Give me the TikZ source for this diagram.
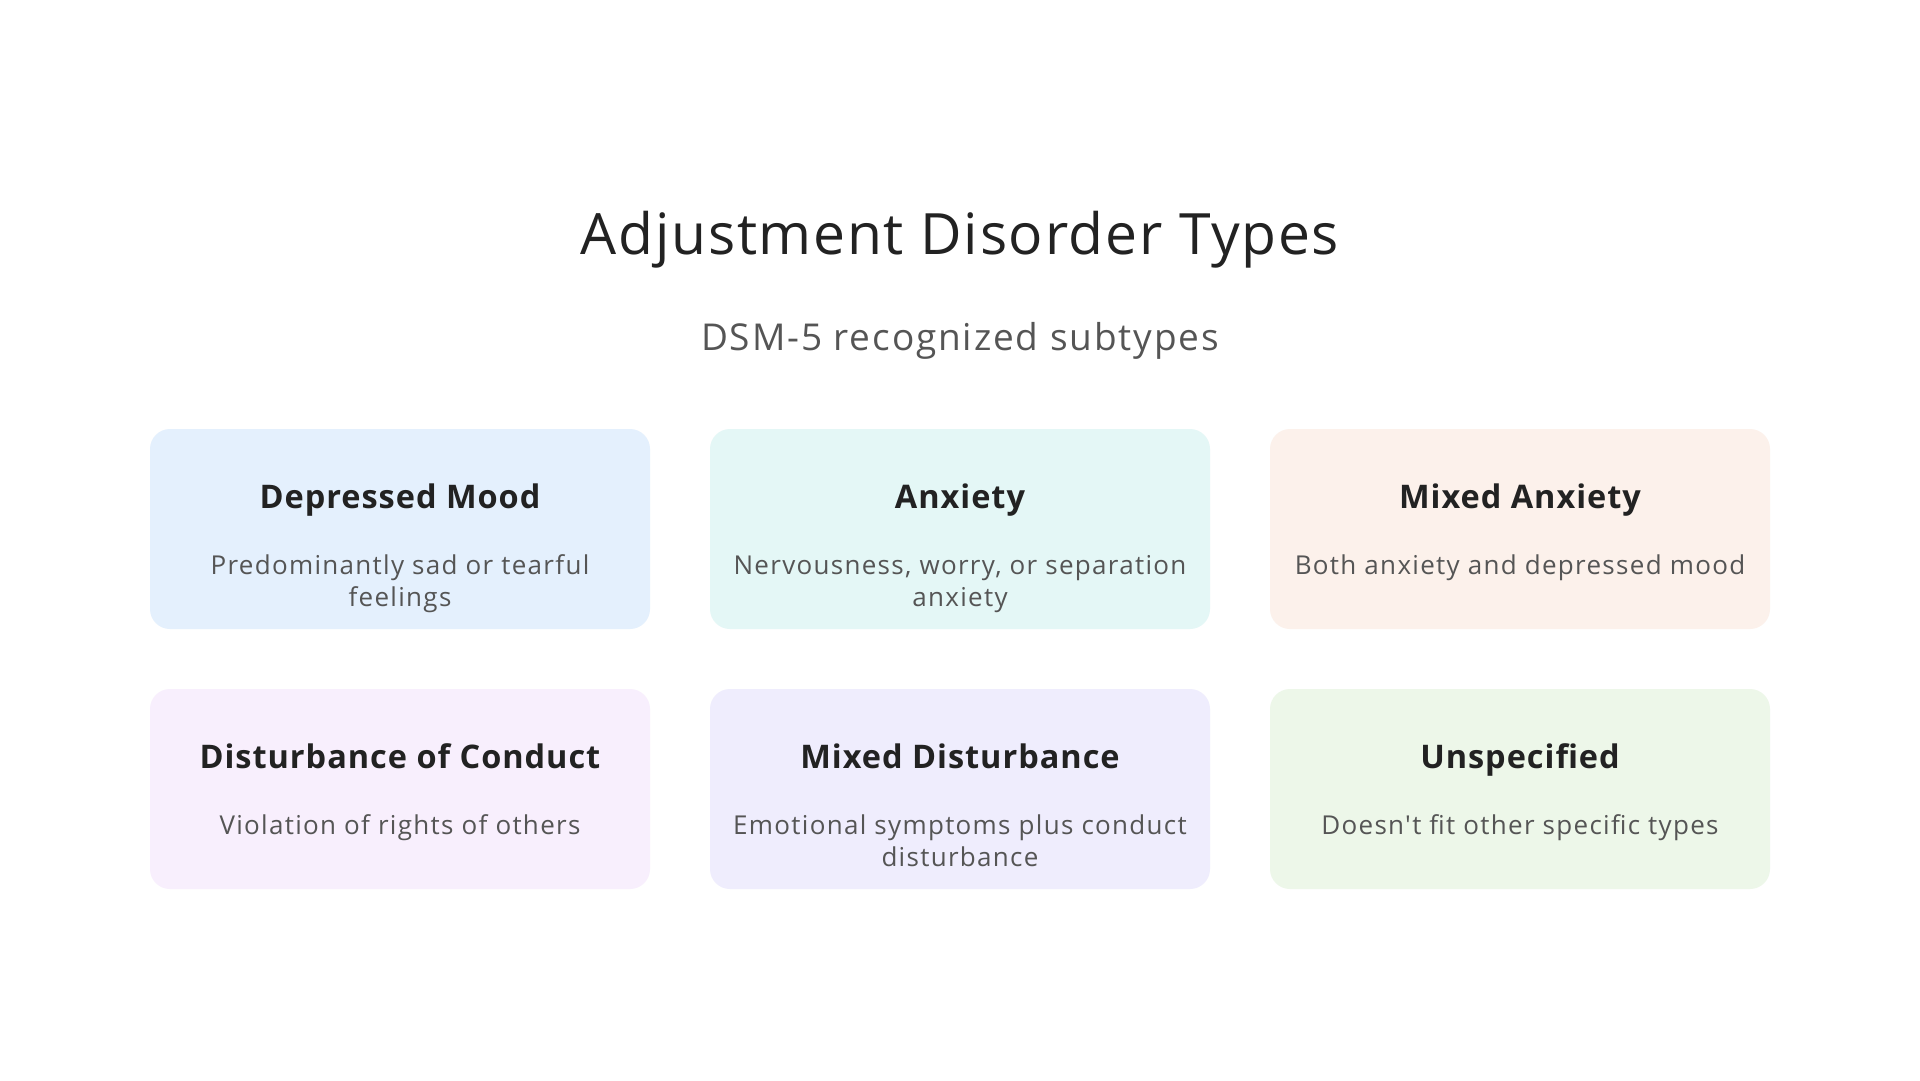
\documentclass[tikz,border=0pt]{standalone}
\usepackage{fontspec}
\setmainfont{Open Sans}[Ligatures=TeXOff]
\definecolor{ctitle}{HTML}{222222}
\definecolor{csub}{HTML}{555555}
\definecolor{cdesc}{HTML}{555555}
\definecolor{cA}{HTML}{E4F0FD}
\definecolor{cB}{HTML}{E4F7F6}
\definecolor{cC}{HTML}{FCF1EB}
\definecolor{cD}{HTML}{F8EFFD}
\definecolor{cE}{HTML}{EFEDFD}
\definecolor{cF}{HTML}{EDF7E9}
\tikzset{
  card/.style={rounded corners=20pt, minimum width=500pt, minimum height=200pt, inner sep=0pt, draw=none},
  ctitle/.style={font=\fontsize{32.5}{38}\selectfont\bfseries\addfontfeature{LetterSpace=3}, text=ctitle, inner sep=0pt, anchor=base},
  cdesc/.style={font=\fontsize{26}{32}\selectfont\addfontfeature{LetterSpace=5}, text=cdesc, inner sep=0pt, anchor=base},
}
\begin{document}
\begin{tikzpicture}[x=1pt,y=-1pt]
\useasboundingbox (0,0) rectangle (1920,1080);
\fill[white] (0,0) rectangle (1920,1080);
\node[font=\fontsize{57}{64}\selectfont\addfontfeature{LetterSpace=3}, text=ctitle, anchor=base, inner sep=0pt] (title) at (960,254) {Adjustment Disorder Types};
\node[font=\fontsize{37}{42}\selectfont\addfontfeature{LetterSpace=5}, text=csub, anchor=base, inner sep=0pt] (sub) at (960,350) {DSM-5 recognized subtypes};
\node[card, fill=cA] (c1) at (400,529) {};
\node[card, fill=cB] (c2) at (960,529) {};
\node[card, fill=cC] (c3) at (1520,529) {};
\node[card, fill=cD] (c4) at (400,789) {};
\node[card, fill=cE] (c5) at (960,789) {};
\node[card, fill=cF] (c6) at (1520,789) {};
\node[ctitle] (t1) at (400,508) {Depressed Mood};
\node[ctitle] (t2) at (960,508) {Anxiety};
\node[ctitle] (t3) at (1520,508) {Mixed Anxiety};
\node[ctitle] (t4) at (400,768) {Disturbance of Conduct};
\node[ctitle] (t5) at (960,768) {Mixed Disturbance};
\node[ctitle] (t6) at (1520,768) {Unspecified};
\node[cdesc] (d1) at (400,574) {Predominantly sad or tearful};
\node[cdesc] (d1b) at (400,606) {feelings};
\node[cdesc] (d2) at (960,574) {Nervousness, worry, or separation};
\node[cdesc] (d2b) at (960,606) {anxiety};
\node[cdesc] (d3) at (1520,574) {Both anxiety and depressed mood};
\node[cdesc] (d4) at (400,834) {Violation of rights of others};
\node[cdesc] (d5) at (960,834) {Emotional symptoms plus conduct};
\node[cdesc] (d5b) at (960,866) {disturbance};
\node[cdesc] (d6) at (1520,834) {Doesn't fit other specific types};
\end{tikzpicture}
\end{document}
